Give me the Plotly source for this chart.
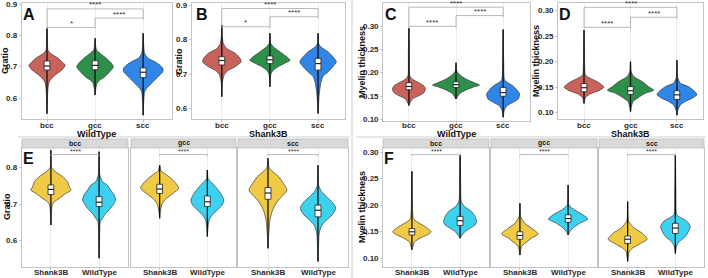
import plotly.graph_objects as go

W, H = 708, 278

# ---------------- data ----------------
regions = ["bcc", "gcc", "scc"]
genotypes = ["Shank3B", "WildType"]

# Violin profiles: levels (top -> bottom) and half widths (category units); boxes: [q1, median, q3]
# Panel A: Gratio, WildType
A_y = [[0.824, 0.80, 0.754, 0.744, 0.727, 0.711, 0.706, 0.690, 0.674, 0.658, 0.647, 0.62, 0.55],
       [0.792, 0.77, 0.754, 0.744, 0.727, 0.711, 0.700, 0.685, 0.668, 0.658, 0.647, 0.63, 0.61],
       [0.808, 0.77, 0.744, 0.728, 0.717, 0.706, 0.695, 0.685, 0.674, 0.658, 0.642, 0.631, 0.62, 0.59, 0.545]]
A_w = [[0, 0.01, 0.02, 0.07, 0.24, 0.345, 0.38, 0.31, 0.17, 0.07, 0.035, 0.015, 0],
       [0, 0.01, 0.03, 0.10, 0.24, 0.345, 0.38, 0.31, 0.20, 0.10, 0.04, 0.015, 0],
       [0, 0.01, 0.03, 0.10, 0.24, 0.345, 0.41, 0.41, 0.345, 0.24, 0.14, 0.07, 0.03, 0.012, 0]]
A_box = [[0.690, 0.703, 0.719], [0.691, 0.705, 0.720], [0.666, 0.683, 0.697]]

# Panel B: Gratio, Shank3B
B_y = [[0.843, 0.81, 0.79, 0.775, 0.761, 0.746, 0.736, 0.722, 0.712, 0.70, 0.68, 0.635],
       [0.819, 0.79, 0.78, 0.765, 0.751, 0.741, 0.732, 0.722, 0.712, 0.70, 0.664],
       [0.819, 0.79, 0.78, 0.765, 0.751, 0.736, 0.722, 0.707, 0.693, 0.673, 0.654, 0.635, 0.586]]
B_w = [[0, 0.01, 0.03, 0.10, 0.28, 0.38, 0.40, 0.28, 0.14, 0.055, 0.015, 0],
       [0, 0.015, 0.07, 0.21, 0.35, 0.42, 0.31, 0.17, 0.07, 0.02, 0],
       [0, 0.01, 0.055, 0.21, 0.31, 0.38, 0.31, 0.21, 0.10, 0.055, 0.035, 0.02, 0]]
B_box = [[0.727, 0.740, 0.751], [0.731, 0.742, 0.753], [0.712, 0.731, 0.746]]

# Panel C: Myelin thickness, WildType
C_y = [[0.296, 0.24, 0.194, 0.187, 0.179, 0.172, 0.165, 0.158, 0.151, 0.144, 0.13],
       [0.222, 0.205, 0.197, 0.187, 0.179, 0.174, 0.169, 0.162, 0.155, 0.144],
       [0.293, 0.22, 0.185, 0.179, 0.172, 0.165, 0.155, 0.144, 0.137, 0.13, 0.12, 0.105]]
C_w = [[0, 0.012, 0.02, 0.07, 0.21, 0.32, 0.35, 0.32, 0.21, 0.07, 0],
       [0, 0.015, 0.07, 0.21, 0.39, 0.50, 0.35, 0.18, 0.07, 0],
       [0, 0.012, 0.03, 0.10, 0.21, 0.28, 0.35, 0.32, 0.21, 0.085, 0.025, 0]]
C_box = [[0.164, 0.171, 0.179], [0.169, 0.175, 0.181], [0.150, 0.158, 0.169]]

# Panel D: Myelin thickness, Shank3B
D_y = [[0.262, 0.20, 0.174, 0.169, 0.161, 0.154, 0.150, 0.143, 0.137, 0.130, 0.118],
       [0.200, 0.18, 0.171, 0.161, 0.151, 0.144, 0.138, 0.128, 0.122, 0.11, 0.102],
       [0.203, 0.17, 0.158, 0.151, 0.141, 0.135, 0.128, 0.122, 0.115, 0.105, 0.095]]
D_w = [[0, 0.012, 0.03, 0.10, 0.28, 0.39, 0.43, 0.32, 0.14, 0.035, 0],
       [0, 0.015, 0.07, 0.25, 0.39, 0.50, 0.32, 0.14, 0.055, 0.015, 0],
       [0, 0.012, 0.07, 0.25, 0.39, 0.43, 0.32, 0.18, 0.07, 0.02, 0]]
D_box = [[0.141, 0.149, 0.157], [0.136, 0.143, 0.151], [0.126, 0.135, 0.143]]

# Panel E: Gratio by genotype within each region  (order: bcc S, bcc W, gcc S, gcc W, scc S, scc W)
E_y = [[0.847, 0.80, 0.788, 0.775, 0.761, 0.747, 0.738, 0.729, 0.715, 0.706, 0.697, 0.67, 0.643],
       [0.843, 0.78, 0.761, 0.752, 0.738, 0.725, 0.711, 0.702, 0.688, 0.675, 0.661, 0.652, 0.60, 0.552],
       [0.806, 0.79, 0.784, 0.77, 0.756, 0.743, 0.729, 0.715, 0.702, 0.68, 0.661],
       [0.793, 0.77, 0.761, 0.747, 0.729, 0.711, 0.697, 0.684, 0.670, 0.656, 0.63, 0.611],
       [0.825, 0.80, 0.788, 0.775, 0.756, 0.738, 0.725, 0.711, 0.697, 0.679, 0.656, 0.62, 0.579],
       [0.806, 0.75, 0.734, 0.72, 0.706, 0.693, 0.684, 0.670, 0.656, 0.643, 0.629, 0.615, 0.58, 0.543]]
E_w = [[0, 0.015, 0.10, 0.24, 0.345, 0.38, 0.42, 0.31, 0.17, 0.07, 0.025, 0.01, 0],
       [0, 0.015, 0.07, 0.17, 0.24, 0.31, 0.345, 0.31, 0.24, 0.14, 0.07, 0.025, 0.01, 0],
       [0, 0.03, 0.10, 0.24, 0.345, 0.40, 0.28, 0.14, 0.055, 0.015, 0],
       [0, 0.015, 0.07, 0.17, 0.28, 0.345, 0.31, 0.21, 0.10, 0.035, 0.01, 0],
       [0, 0.02, 0.10, 0.21, 0.31, 0.38, 0.31, 0.21, 0.14, 0.08, 0.04, 0.015, 0],
       [0, 0.015, 0.07, 0.17, 0.28, 0.345, 0.345, 0.28, 0.17, 0.08, 0.04, 0.02, 0.01, 0]]
E_box = [[0.726, 0.740, 0.752], [0.693, 0.705, 0.720], [0.729, 0.741, 0.754],
         [0.693, 0.706, 0.722], [0.713, 0.730, 0.745], [0.665, 0.683, 0.697]]

# Panel F: Myelin thickness by genotype within each region
F_y = [[0.264, 0.20, 0.175, 0.169, 0.160, 0.150, 0.144, 0.138, 0.131, 0.116],
       [0.295, 0.24, 0.207, 0.197, 0.188, 0.179, 0.169, 0.163, 0.157, 0.150, 0.138],
       [0.204, 0.18, 0.166, 0.157, 0.146, 0.138, 0.128, 0.122, 0.106],
       [0.238, 0.20, 0.191, 0.182, 0.174, 0.166, 0.157, 0.150, 0.144],
       [0.207, 0.17, 0.157, 0.147, 0.136, 0.128, 0.119, 0.113, 0.094],
       [0.295, 0.22, 0.183, 0.179, 0.170, 0.160, 0.150, 0.141, 0.133, 0.125, 0.109]]
F_w = [[0, 0.012, 0.03, 0.10, 0.27, 0.40, 0.31, 0.17, 0.055, 0],
       [0, 0.012, 0.025, 0.10, 0.24, 0.31, 0.345, 0.31, 0.21, 0.10, 0],
       [0, 0.015, 0.10, 0.24, 0.38, 0.24, 0.10, 0.035, 0],
       [0, 0.02, 0.14, 0.31, 0.41, 0.24, 0.10, 0.035, 0],
       [0, 0.02, 0.14, 0.31, 0.41, 0.27, 0.10, 0.035, 0],
       [0, 0.012, 0.025, 0.07, 0.24, 0.31, 0.27, 0.21, 0.10, 0.03, 0]]
F_box = [[0.144, 0.150, 0.156], [0.162, 0.171, 0.179], [0.136, 0.143, 0.150],
         [0.168, 0.175, 0.182], [0.128, 0.136, 0.142], [0.147, 0.157, 0.166]]

region_colors = ["#C8625B", "#2E8F4A", "#2F86E6"]
genotype_colors = ["#F0CA45", "#3DD1F0"]

gratio_ticks = [0.6, 0.7, 0.8, 0.9]
myelin_ticks = [0.10, 0.15, 0.20, 0.25, 0.30]

# ---------------- figure ----------------
fig = go.Figure()
TICKFONT = dict(family="Liberation Sans", size=8, color="#2a2a2a", weight="bold")
STARFONT = dict(family="Liberation Sans", size=8, color="#333333")
STARFONT_SMALL = dict(family="Liberation Sans", size=7, color="#333333")


def xd(a, b):
    return [a / W, b / W]


def yd(top, bottom):
    return [1 - bottom / H, 1 - top / H]


axis_count = [0]


def make_axis(xpx, ypx, xr, yr, ticktext, yticks, yfmt, show_ylabels, xlabel_py):
    axis_count[0] += 1
    n = axis_count[0]
    sx = "" if n == 1 else str(n)
    xa, ya = "x" + sx, "y" + sx
    fig.layout["xaxis" + sx] = dict(
        domain=xd(*xpx), range=xr, anchor=ya, tickmode="array",
        tickvals=list(range(1, len(ticktext) + 1)), showticklabels=False,
        showgrid=True, gridcolor="#e6e6e6", gridwidth=0.8, zeroline=False,
        showline=True, mirror=True, linecolor="#c4c4c4", linewidth=1,
        ticks="outside", ticklen=2, tickcolor="#c4c4c4")
    fig.layout["yaxis" + sx] = dict(
        domain=yd(*ypx), range=yr, anchor=xa, tickmode="array",
        tickvals=yticks, showticklabels=False,
        showgrid=False, zeroline=False, showline=True, mirror=True,
        linecolor="#c4c4c4", linewidth=1, ticks="outside" if show_ylabels else "",
        ticklen=2, tickcolor="#c4c4c4")
    # tick labels placed as text next to the axes
    for i, t in enumerate(ticktext):
        fig.add_annotation(x=i + 1, xref=xa, y=1 - xlabel_py / H, yref="paper", text=t,
                           showarrow=False, xanchor="center", yanchor="middle", font=TICKFONT)
    if show_ylabels:
        for v in yticks:
            fig.add_annotation(x=(xpx[0] - 2.5) / W, xref="paper", y=v, yref=ya, text=format(v, yfmt),
                               showarrow=False, xanchor="right", yanchor="middle", font=TICKFONT)
    return xa, ya


def draw_violin(xa, ya, c, ys, ws, box, color):
    xs = [c + w for w in ws] + [c - w for w in ws[::-1]]
    yy = list(ys) + list(ys[::-1])
    fig.add_trace(go.Scatter(x=xs, y=yy, xaxis=xa, yaxis=ya, mode="lines", fill="toself",
                             fillcolor=color, line=dict(color="#3a3a3a", width=0.7, shape="spline", smoothing=0.6),
                             hoverinfo="skip", showlegend=False))
    # dense jittered points -> dark streak from min to max
    fig.add_trace(go.Scatter(x=[c, c], y=[ys[0], ys[-1]], xaxis=xa, yaxis=ya, mode="lines",
                             line=dict(color="#111111", width=1.3), hoverinfo="skip", showlegend=False))
    q1, med, q3 = box
    bw = 0.06
    fig.add_trace(go.Scatter(x=[c - bw, c + bw, c + bw, c - bw, c - bw], y=[q1, q1, q3, q3, q1],
                             xaxis=xa, yaxis=ya, mode="lines", fill="toself", fillcolor="white",
                             line=dict(color="#222222", width=0.8), hoverinfo="skip", showlegend=False))
    fig.add_trace(go.Scatter(x=[c - bw, c + bw], y=[med, med], xaxis=xa, yaxis=ya, mode="lines",
                             line=dict(color="#222222", width=1.2), hoverinfo="skip", showlegend=False))


def bracket(xa, ya, x1, x2, y, y1end, y2end, label, font=STARFONT, shift=4):
    fig.add_trace(go.Scatter(x=[x1, x1, x2, x2], y=[y1end, y, y, y2end], xaxis=xa, yaxis=ya,
                             mode="lines", line=dict(color="#a8a8a8", width=0.8),
                             hoverinfo="skip", showlegend=False))
    fig.add_annotation(x=(x1 + x2) / 2, y=y, xref=xa, yref=ya, text=label, showarrow=False,
                       font=font, yanchor="middle", yshift=shift)


def ann(px, py, text, size, angle=0, weight="bold", color="#111111"):
    fig.add_annotation(x=px / W, y=1 - py / H, xref="paper", yref="paper", text=text, showarrow=False,
                       textangle=angle, xanchor="center", yanchor="middle",
                       font=dict(family="Liberation Sans", size=size, color=color, weight=weight))


# ---- top row ----
top_panels = [
    ("A", (22, 172), (3, 119), [0.48, 3.6], [0.533, 0.905], A_y, A_w, A_box, gratio_ticks, ".1f",
     "Gratio", "WildType", 5, 29, [(0.8265, "*"), (0.8565, "****"), (0.886, "****")]),
    ("B", (192, 345), (3, 119), [0.38, 3.56], [0.570, 0.907], B_y, B_w, B_box, gratio_ticks, ".1f",
     "Gratio", "Shank3B", 179, 202, [(0.838, "*"), (0.867, "****"), (0.891, "****")]),
    ("C", (383, 530), (3, 121), [0.45, 3.57], [0.097, 0.350], C_y, C_w, C_box, myelin_ticks, ".2f",
     "Myelin thickness", "WildType", 362, 391, [(0.300, "****"), (0.323, "****"), (0.341, "****")]),
    ("D", (558, 703), (3, 119), [0.44, 3.56], [0.0876, 0.315], D_y, D_w, D_box, myelin_ticks, ".2f",
     "Myelin thickness", "Shank3B", 536, 565, [(0.2674, "****"), (0.287, "****"), (0.3065, "****")]),
]

for (letter, xpx, ypx, xr, yr, ys, ws, boxes, yt, yf, ytitle, xtitle, ytx, lx, brs) in top_panels:
    xa, ya = make_axis(xpx, ypx, xr, yr, regions, yt, yf, True, 125)
    for i in range(3):
        draw_violin(xa, ya, i + 1, ys[i], ws[i], boxes[i], region_colors[i])
    (l1, t1), (l2, t2), (l3, t3) = brs
    small = (yr[1] - yr[0]) * 0.012
    bracket(xa, ya, 1, 2, l1, l1 - small, l1 - small, t1)
    bracket(xa, ya, 2, 3, l2, l1, l2 - small, t2)
    bracket(xa, ya, 1, 3, l3, l1, l2, t3)
    ann(ytx, (ypx[0] + ypx[1]) / 2, ytitle, 9, angle=-90)
    ann((xpx[0] + xpx[1]) / 2, 133.5, xtitle, 9)
    ann(lx, 14, letter, 16)

# ---- bottom row (faceted) ----
bottom_panels = [
    ("E", [(22, 128), (131, 236), (238, 348)], [0.528, 0.853], E_y, E_w, E_box, [0.6, 0.7, 0.8], ".1f",
     "Gratio", 7, 29, 0.835),
    ("F", [(383, 489), (491, 597), (599, 704)], [0.0836, 0.308], F_y, F_w, F_box, myelin_ticks, ".2f",
     "Myelin thickness", 362, 389, 0.2955),
]
for (letter, facets, yr, ys, ws, boxes, yt, yf, ytitle, ytx, lx, blev) in bottom_panels:
    for k, (fx0, fx1) in enumerate(facets):
        xa, ya = make_axis((fx0, fx1), (148, 267), [0.4, 2.6], yr, genotypes, yt, yf, k == 0, 272)
        for g in range(2):
            idx = 2 * k + g
            draw_violin(xa, ya, g + 1, ys[idx], ws[idx], boxes[idx], genotype_colors[g])
        small = (yr[1] - yr[0]) * 0.012
        bracket(xa, ya, 1, 2, blev, blev - small, blev - small, "****", STARFONT_SMALL, 3)
        fig.add_shape(type="rect", xref="paper", yref="paper", x0=fx0 / W, x1=fx1 / W,
                      y0=1 - 148 / H, y1=1 - 139 / H, fillcolor="#d9d9d9",
                      line=dict(color="#bdbdbd", width=0.8), layer="above")
        ann((fx0 + fx1) / 2, 143, regions[k], 7, color="#1a1a1a")
    ann(ytx, 207, ytitle, 9, angle=-90)
    ann(lx, 158, letter, 16)

# separators between the figure parts
fig.add_shape(type="line", xref="paper", yref="paper", x0=352 / W, x1=352 / W, y0=0, y1=1,
              line=dict(color="#cfcfcf", width=1))
fig.add_shape(type="line", xref="paper", yref="paper", x0=18 / W, x1=350 / W,
              y0=1 - 137 / H, y1=1 - 137 / H, line=dict(color="#cfcfcf", width=1))
fig.add_shape(type="line", xref="paper", yref="paper", x0=356 / W, x1=706 / W,
              y0=1 - 137 / H, y1=1 - 137 / H, line=dict(color="#cfcfcf", width=1))

fig.update_layout(width=W, height=H, margin=dict(l=0, r=0, t=0, b=0),
                  plot_bgcolor="white", paper_bgcolor="white", showlegend=False)

fig.write_html("out.html", config={"displayModeBar": False, "staticPlot": True},
               post_script="document.body.style.margin='0';document.body.style.padding='0';")
